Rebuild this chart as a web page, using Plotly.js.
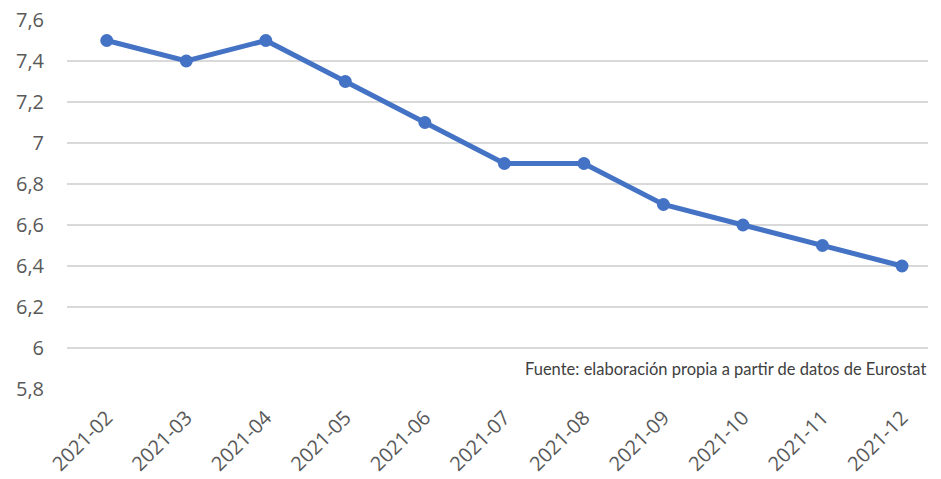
<!DOCTYPE html>
<html>
<head>
<meta charset="utf-8">
<script src="https://cdn.plot.ly/plotly-3.0.1.min.js"></script>
<style>html,body{margin:0;padding:0;background:#fff;}#chart{width:941px;height:479px;}</style>
</head>
<body>
<div id="chart"></div>
<script>
const months = ["2021-02","2021-03","2021-04","2021-05","2021-06","2021-07","2021-08","2021-09","2021-10","2021-11","2021-12"];
const values = [7.5, 7.4, 7.5, 7.3, 7.1, 6.9, 6.9, 6.7, 6.6, 6.5, 6.4];
const sourceNote = "Fuente: elaboración propia a partir de datos de Eurostat";

const trace = {
  x: months,
  y: values,
  type: "scatter",
  mode: "lines+markers",
  line: {color: "#4472C4", width: 5},
  marker: {color: "#4472C4", size: 13},
  hoverinfo: "skip"
};

const layout = {
  width: 941,
  height: 479,
  margin: {l: 67, r: 13, t: 20, b: 90},
  paper_bgcolor: "#ffffff",
  plot_bgcolor: "#ffffff",
  separators: ", ",
  showlegend: false,
  font: {family: "Open Sans, sans-serif", color: "#595959"},
  xaxis: {
    type: "category",
    range: [-0.5, 10.327],
    tickangle: -45,
    tickfont: {size: 20, color: "#595959"},
    showgrid: false,
    zeroline: false,
    showline: false,
    ticks: "",
    ticklabelstandoff: 12
  },
  yaxis: {
    range: [5.8, 7.6],
    dtick: 0.2,
    tick0: 5.8,
    tickfont: {size: 20, color: "#595959"},
    showgrid: true,
    gridcolor: "#d9d9d9",
    gridwidth: 2,
    zeroline: false,
    showline: false,
    ticks: "",
    ticklabelstandoff: 22
  },
  annotations: [{
    text: sourceNote,
    xref: "paper", yref: "y",
    x: 1.0, y: 5.9,
    xanchor: "right", yanchor: "middle",
    showarrow: false,
    font: {size: 16.5, color: "#404040", family: "Lato, Open Sans, sans-serif"}
  }]
};

Plotly.newPlot("chart", [trace], layout, {displayModeBar: false, staticPlot: true});
</script>
</body>
</html>
